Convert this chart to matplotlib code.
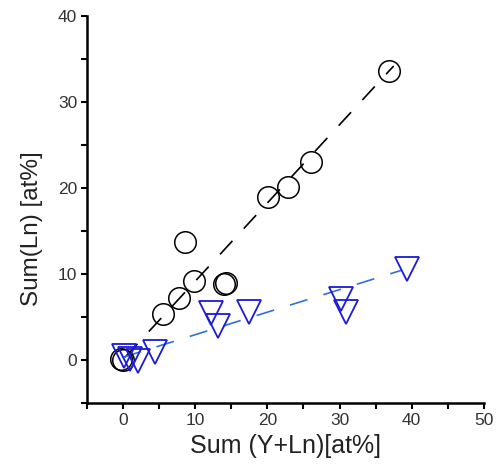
import numpy as np
import matplotlib.pyplot as plt
from matplotlib.ticker import MultipleLocator

plt.rcParams['font.family'] = ['Liberation Sans', 'DejaVu Sans']

# circles (black)
circ_x = [36.8, 26.0, 22.9, 20.1, 8.6, 9.9, 14.3, 14.0, 7.7, 5.6, 0.0, -0.3]
circ_y = [33.6, 23.0, 20.1, 19.0, 13.7, 9.2, 9.0, 8.8, 7.2, 5.3, 0.0, 0.1]

# triangles (blue)
tri_x = [39.4, 30.2, 30.9, 17.5, 12.2, 13.2, 4.4, 2.1, 1.0, 0.1]
tri_y = [10.6, 7.1, 5.6, 5.6, 5.4, 3.9, 0.9, -0.1, 0.1, 0.5]

# fitted lines (endpoints)
fit_black_x = [0.3, 37.5]
fit_black_y = [0.3, 34.2]
fit_blue_x = [0.0, 38.5]
fit_blue_y = [0.3, 10.4]

fig = plt.figure(figsize=(5.02, 4.75), dpi=100)
ax = fig.add_axes([0.173, 0.152, 0.791, 0.814])

ax.plot(fit_black_x, fit_black_y, color='black', lw=1.2, dashes=(11, 10))
ax.plot(fit_blue_x, fit_blue_y, color='#2f6fe0', lw=1.2, dashes=(11, 10))

ax.plot(circ_x, circ_y, 'o', mfc='none', mec='black', ms=15.5, mew=1.1)
ax.plot(tri_x, tri_y, 'v', mfc='none', mec='#1a1ad8', ms=17, mew=1.3)

ax.set_xlim(-5, 50)
ax.set_ylim(-5, 40)
ax.xaxis.set_major_locator(MultipleLocator(10))
ax.xaxis.set_minor_locator(MultipleLocator(5))
ax.yaxis.set_major_locator(MultipleLocator(10))
ax.yaxis.set_minor_locator(MultipleLocator(5))

for s in ['top', 'right']:
    ax.spines[s].set_visible(False)
for s in ['left', 'bottom']:
    ax.spines[s].set_linewidth(1.8)

ax.tick_params(axis='both', which='both', direction='out', width=1.5,
               length=4, labelsize=12.5, labelcolor='#333333', pad=3)

ax.set_xlabel('Sum (Y+Ln)[at%]', fontsize=18, color='#222222', labelpad=5)
ax.set_ylabel('Sum(Ln) [at%]', fontsize=17.5, color='#222222')
ax.yaxis.set_label_coords(-0.11, 0.45)

fig.savefig('out.png', dpi=100)
